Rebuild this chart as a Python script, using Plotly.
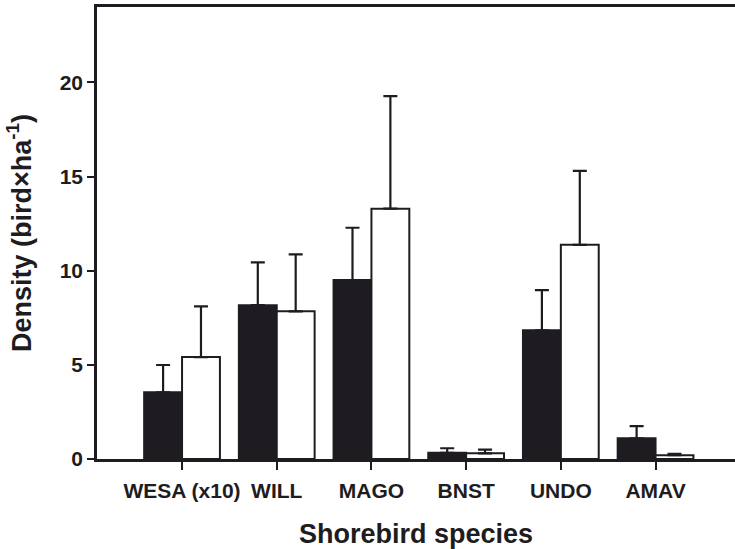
import plotly.graph_objects as go

species = ["WESA (x10)", "WILL", "MAGO", "BNST", "UNDO", "AMAV"]
positions = [0, 1, 2, 3, 4, 5]
black_vals = [3.54, 8.17, 9.50, 0.33, 6.83, 1.10]
black_err = [1.45, 2.27, 2.78, 0.24, 2.14, 0.65]
white_vals = [5.41, 7.84, 13.29, 0.30, 11.37, 0.20]
white_err = [2.69, 3.02, 5.98, 0.20, 3.93, 0.08]

ink = "#1e1c20"
fam = "Liberation Sans, Arial, sans-serif"
fig = go.Figure()
fig.add_trace(go.Bar(
    x=positions, y=black_vals, width=0.4, offset=-0.4,
    marker=dict(color=ink, line=dict(color=ink, width=2)),
    error_y=dict(type="data", array=black_err, arrayminus=[0]*6, symmetric=False,
                 color=ink, thickness=2.2, width=7),
    showlegend=False,
))
fig.add_trace(go.Bar(
    x=positions, y=white_vals, width=0.4, offset=0,
    marker=dict(color="white", line=dict(color=ink, width=2)),
    error_y=dict(type="data", array=white_err, arrayminus=[0]*6, symmetric=False,
                 color=ink, thickness=2.2, width=7),
    showlegend=False,
))

fig.update_layout(
    width=735, height=549,
    margin=dict(l=97, r=0, t=7, b=90, autoexpand=False),
    paper_bgcolor="white", plot_bgcolor="white",
    font=dict(family=fam, color=ink),
    barmode="overlay",
    xaxis=dict(
        range=[-0.898, 5.839], tickmode="array", tickvals=positions, ticktext=species,
        showline=True, linecolor=ink, linewidth=2.5, mirror=True,
        ticks="outside", ticklen=8, tickwidth=2, tickcolor=ink, ticklabelstandoff=3,
        showgrid=False, zeroline=False, automargin=False,
        tickfont=dict(size=21, family=fam, weight="bold", color=ink),
        title=dict(text="<b>Shorebird species</b>", font=dict(size=27, family=fam, color=ink), standoff=24),
    ),
    yaxis=dict(
        range=[0, 24], tickvals=[0, 5, 10, 15, 20],
        showline=True, linecolor=ink, linewidth=2.5, mirror=False,
        ticks="outside", ticklen=7, tickwidth=2, tickcolor=ink,
        showgrid=False, zeroline=False, automargin=False,
        tickfont=dict(size=21, family=fam, weight="bold", color=ink),
        title=dict(text="<b>Density (bird×ha<sup>-1</sup>)</b>", font=dict(size=27, family=fam, color=ink), standoff=21),
    ),
)

fig.write_html(
    "out.html",
    config={"displayModeBar": False},
    post_script="document.body.style.margin='0';document.body.style.overflow='hidden';document.documentElement.style.overflow='hidden';",
)
